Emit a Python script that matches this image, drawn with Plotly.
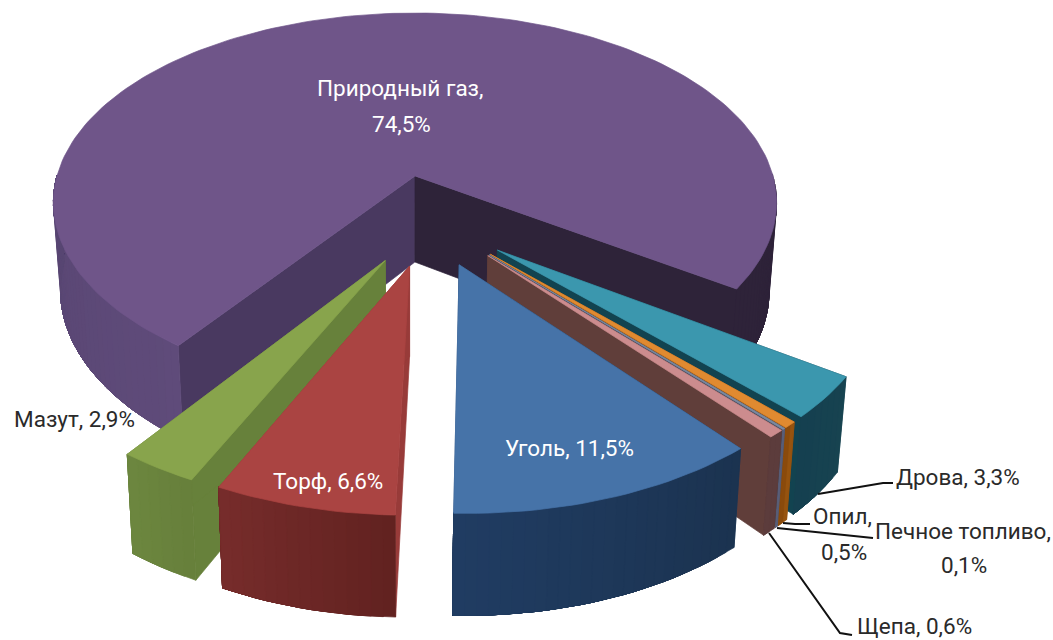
import math
import plotly.graph_objects as go

# ---- data ----
categories = ["Дрова", "Опил", "Печное топливо", "Щепа", "Уголь", "Торф", "Мазут", "Природный газ"]
shares = [3.3, 0.5, 0.1, 0.6, 11.5, 6.6, 2.9, 74.5]

# ---- styles (top, start face, end face, wall at start, wall at end) ----
styles = {
    "Дрова": ("#3b97ae", "#174450", "#124350", "#174350", "#154050"),
    "Опил": ("#e08a30", "#8f4f10", "#8f4f10", "#96530f", "#8a4a0c"),
    "Печное топливо": ("#7c8aa0", "#3f4a60", "#3f4a60", "#5a5f78", "#5a5f78"),
    "Щепа": ("#cc8c8e", "#603e3a", "#603e3a", "#5c3c3c", "#5c3c3c"),
    "Уголь": ("#4673a8", "#1f3a5c", "#2a4c78", "#1b3350", "#203c62"),
    "Торф": ("#aa4442", "#983b39", "#983b39", "#622220", "#762c2b"),
    "Мазут": ("#88a44c", "#67813b", "#67813b", "#67803b", "#6c863f"),
    "Природный газ": ("#6f5589", "#493960", "#2e2339", "#5a4773", "#5a4773"),
}
draw_order = ["Природный газ", "Дрова", "Опил", "Печное топливо", "Щепа", "Мазут", "Торф", "Уголь"]

# ---- projection of the tilted disc ----
W, H = 1053, 640
CX, CY = 415.0, 176.0
A, B, K = 358.0, 185.8, 0.14
DEPTH = 86.0
BOTTOM_X0, BOTTOM_SCALE = 410.0, 0.98
EXPLODE = 0.232
START_DEG = 34.1


def project(x, y, bottom=False):
    w = 1 - K * y
    sx = CX + A * x / w
    sy = CY + B * y / w
    if bottom:
        sx = BOTTOM_X0 + (sx - BOTTOM_X0) * BOTTOM_SCALE
        sy += DEPTH / w ** 0.75
    return sx, sy


def mix(c0, c1, f):
    a = [int(c0[i:i + 2], 16) for i in (1, 3, 5)]
    b = [int(c1[i:i + 2], 16) for i in (1, 3, 5)]
    return "rgb(%d,%d,%d)" % tuple(round(p + (q - p) * f) for p, q in zip(a, b))


# angular extent of every slice from its share
spans = {}
cursor = START_DEG
for name, share in zip(categories, shares):
    spans[name] = (cursor, cursor + share * 3.6)
    cursor += share * 3.6

gas_mid = math.radians(sum(spans["Природный газ"]) / 2)
fig = go.Figure()


def poly(points, color):
    xs = [p[0] for p in points] + [points[0][0]]
    ys = [p[1] for p in points] + [points[0][1]]
    fig.add_trace(go.Scatter(x=xs, y=ys, mode="lines", fill="toself", fillcolor=color,
                             line=dict(color=color, width=0.7), hoverinfo="skip", showlegend=False))


for name in draw_order:
    t0, t1 = spans[name]
    top, face0, face1, wall0, wall1 = styles[name]
    mid = math.radians((t0 + t1) / 2)
    ox = EXPLODE * (math.cos(mid) - math.cos(gas_mid))
    oy = EXPLODE * (math.sin(mid) - math.sin(gas_mid))
    rim = lambda deg: (ox + math.cos(math.radians(deg)), oy + math.sin(math.radians(deg)))

    steps = max(2, int((t1 - t0) / 1.5))
    angles = [t0 + (t1 - t0) * i / steps for i in range(steps + 1)]

    # radial faces
    for deg, col in ((t0, face0), (t1, face1)):
        e = rim(deg)
        poly([project(ox, oy), project(*e), project(*e, bottom=True), project(ox, oy, bottom=True)], col)

    # outer wall: contiguous front-facing runs, painted as nested bands so no seams show
    runs, run = [], []
    for a in angles:
        if math.sin(math.radians(a)) >= -0.02:
            run.append(a)
        elif run:
            runs.append(run)
            run = []
    if run:
        runs.append(run)
    for run in runs:
        for j in range(len(run) - 1):
            a0 = run[j]
            if name == "Природный газ":
                col = "#2e2339" if math.cos(math.radians(a0)) > 0 else mix("#5f4b7a", "#564470", (a0 - 125) / 70)
            else:
                col = mix(wall0, wall1, j / max(1, len(run) - 2))
            rest = run[j:]
            poly([project(*rim(a)) for a in rest] + [project(*rim(a), bottom=True) for a in reversed(rest)], col)

    # top surface
    poly([project(ox, oy)] + [project(*rim(a)) for a in angles], top)

# ---- leader lines ----
leaders = [
    [(818, 494), (883, 483), (893, 483)],
    [(783, 523), (795, 524), (810, 524)],
    [(777, 528), (873, 538)],
    [(769, 533), (840, 633), (852, 635)],
]
for ln in leaders:
    fig.add_trace(go.Scatter(x=[p[0] for p in ln], y=[p[1] for p in ln], mode="lines",
                             line=dict(color="#111111", width=2), hoverinfo="skip", showlegend=False))

# ---- labels ----
DARK, LIGHT = "#2a2a2a", "#ffffff"
labels = [
    ("Природный газ,", 400, 88, LIGHT),
    ("74,5%", 401, 124, LIGHT),
    ("Уголь, 11,5%", 569, 448, LIGHT),
    ("Торф, 6,6%", 328, 481, LIGHT),
    ("Мазут, 2,9%", 74, 419, DARK),
    ("Дрова, 3,3%", 958, 477, DARK),
    ("Опил,", 842, 516, DARK),
    ("0,5%", 844, 552, DARK),
    ("Печное топливо,", 963, 531, DARK),
    ("0,1%", 964, 565, DARK),
    ("Щепа, 0,6%", 914, 626, DARK),
]
for text, x, y, color in labels:
    fig.add_annotation(x=x, y=y, text=text, showarrow=False, xanchor="center", yanchor="middle",
                       font=dict(family="Roboto", size=22.5, color=color))

fig.update_layout(
    width=W, height=H, margin=dict(l=0, r=0, t=0, b=0),
    paper_bgcolor="white", plot_bgcolor="white", showlegend=False,
    xaxis=dict(range=[0, W], visible=False, fixedrange=True),
    yaxis=dict(range=[H, 0], visible=False, fixedrange=True),
)
fig.write_html("out.html", config={"displayModeBar": False},
               post_script="document.body.style.margin='0';document.body.style.overflow='hidden';")
